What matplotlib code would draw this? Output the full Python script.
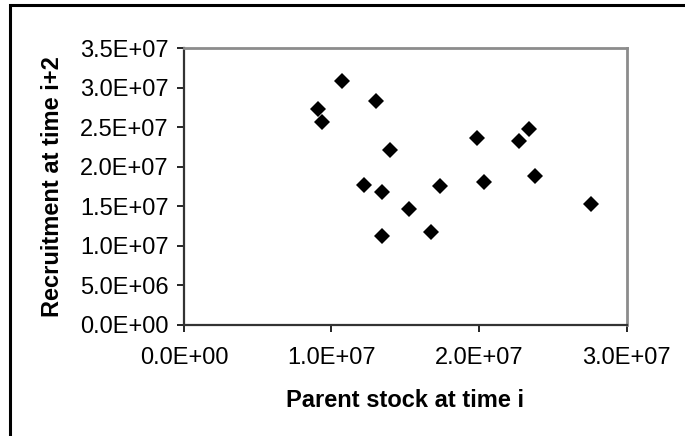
import matplotlib
matplotlib.use("Agg")
import matplotlib.pyplot as plt
from matplotlib.ticker import FuncFormatter
from matplotlib.patches import Rectangle

# data
parent_stock = [0.907e7, 0.937e7, 1.07e7, 1.30e7, 1.396e7, 1.22e7, 1.34e7, 1.342e7, 1.523e7,
                1.672e7, 1.736e7, 1.989e7, 2.037e7, 2.268e7, 2.34e7, 2.378e7, 2.758e7]
recruitment = [2.74e7, 2.574e7, 3.094e7, 2.83e7, 2.215e7, 1.775e7, 1.678e7, 1.132e7, 1.467e7,
               1.176e7, 1.754e7, 2.362e7, 1.805e7, 2.325e7, 2.477e7, 1.886e7, 1.531e7]
x_ticks = [0, 1e7, 2e7, 3e7]
y_ticks = [0, 5e6, 1e7, 1.5e7, 2e7, 2.5e7, 3e7, 3.5e7]

plt.rcParams['font.family'] = ['Liberation Sans', 'DejaVu Sans']

fig = plt.figure(figsize=(6.85, 4.36), dpi=100)
ax = fig.add_axes([0.2686, 0.2546, 0.9146 - 0.2686, 0.8888 - 0.2546])

ax.plot(parent_stock, recruitment, linestyle='none', marker='D', markersize=8.3,
        color='black', markeredgewidth=0)

ax.set_xlim(0, 3e7)
ax.set_ylim(0, 3.5e7)
ax.set_xticks(x_ticks)
ax.set_yticks(y_ticks)
fmt = FuncFormatter(lambda v, p: '%.1E' % v)
ax.xaxis.set_major_formatter(fmt)
ax.yaxis.set_major_formatter(fmt)
ax.tick_params(axis='both', direction='out', length=5, width=1.2, colors='black',
               labelsize=17)
ax.tick_params(axis='y', pad=6)
ax.tick_params(axis='x', pad=11)

for side in ['left', 'bottom']:
    ax.spines[side].set_color('#333333')
    ax.spines[side].set_linewidth(1.6)
for side in ['top', 'right']:
    ax.spines[side].set_color('#8c8c8c')
    ax.spines[side].set_linewidth(2)

ax.set_xlabel('Parent stock at time i', fontsize=17, fontweight='bold')
ax.set_ylabel('Recruitment at time i+2', fontsize=17, fontweight='bold')
ax.xaxis.label.set_va('center')
ax.yaxis.label.set_va('center')
ax.xaxis.set_label_coords(0.5, -0.272)
ax.yaxis.set_label_coords(-0.298, 0.5)

# outer chart border (runs off the right and bottom edges)
fig.add_artist(Rectangle((0.0139, -0.05), 1.1, 0.9874 + 0.05, transform=fig.transFigure,
                         fill=False, edgecolor='black', linewidth=2.2))

fig.savefig('out.png', dpi=100)
